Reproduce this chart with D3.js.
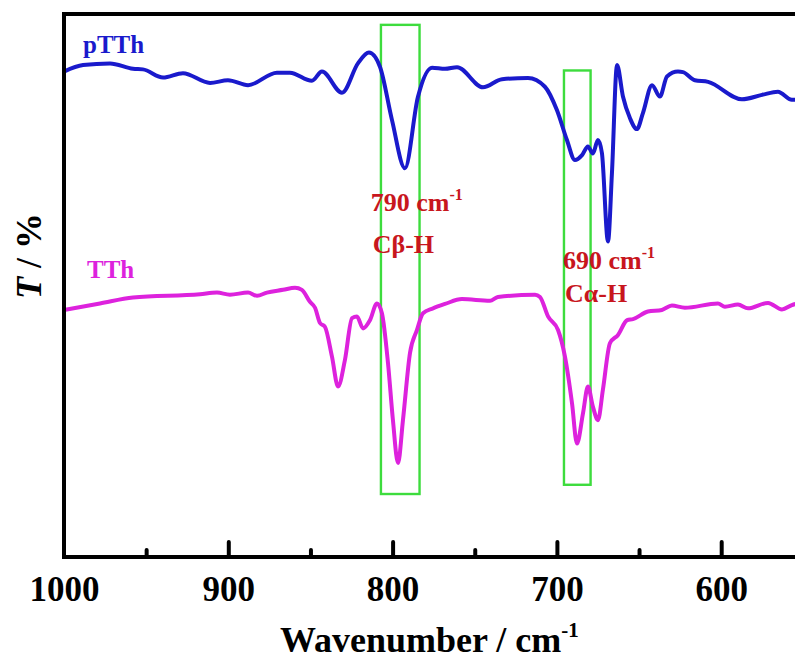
<!DOCTYPE html>
<html>
<head>
<meta charset="utf-8">
<script src="https://cdn.jsdelivr.net/npm/d3@7"></script>
<style>
  html, body { margin: 0; padding: 0; background: #fff; overflow: hidden; }
  text { font-family: "Liberation Serif", "Times New Roman", serif; font-weight: bold; }
</style>
</head>
<body>
<div id="chart"></div>
<script>
// wavenumber (cm-1) / transmittance (arb. offset units)
const pTThWave = [1000, 988.4, 972, 958, 952, 939.7, 927.6, 911.1, 900.2, 888, 870.4, 862.5, 849.1, 843, 830.8, 821.1, 814.4, 807.7, 800.4, 792.5, 784.6, 776, 768.1, 760.8, 745, 733.4, 717.6, 707.3, 700, 693.9, 689, 684.7, 681.1, 678.1, 675, 672.6, 668.9, 666.5, 663.4, 659.8, 655.5, 651.3, 647.6, 642.1, 637.3, 633, 626.3, 623.3, 616, 608, 587.4, 575.2, 565.5, 557, 552];
const pTThT = [89.4, 90.6, 90.9, 89.9, 89.8, 88.3, 89.1, 87.3, 87.8, 86.9, 89.2, 89.2, 87.7, 89.4, 85.5, 90.9, 92.9, 90.3, 80.5, 71.6, 84.7, 90.1, 89.9, 90.2, 86.5, 88.0, 88.2, 86.6, 82.3, 76.8, 73.1, 74.0, 75.6, 74.3, 76.8, 74.4, 58.1, 70.7, 90.6, 84.8, 80.8, 78.8, 81.8, 86.9, 84.8, 88.5, 89.4, 89.3, 87.8, 87.5, 84.3, 85.1, 85.7, 84.2, 84.2];

const tthWave = [1000, 978.1, 958, 917.2, 906.9, 899, 888, 882.5, 876.5, 866.7, 859.4, 855.2, 850.3, 847.2, 844.2, 841.2, 836.9, 833.2, 829, 824.7, 821.7, 818, 813.8, 809.5, 806.5, 802.8, 799.8, 796.7, 793.7, 789.4, 785.2, 781.5, 775.4, 768.1, 757.8, 740.7, 735.9, 713.3, 710.3, 705.4, 699.3, 695.1, 690.8, 687.8, 684.1, 681.1, 678.1, 675, 672, 667.7, 662.8, 657.3, 653.7, 644.6, 636.1, 630, 622.1, 602, 597.7, 589.8, 583.7, 571.5, 563, 557, 552];
const tthT = [45.5, 46.7, 47.8, 48.4, 48.7, 48.3, 48.7, 48.1, 48.7, 49.2, 49.6, 49.2, 47.0, 45.9, 43.1, 42.4, 36.9, 31.4, 36.3, 44.0, 44.3, 42.1, 43.6, 46.7, 44.9, 35.7, 25.2, 17.3, 25.2, 37.6, 41.8, 44.9, 45.8, 46.6, 47.5, 47.2, 47.9, 48.3, 47.9, 44.3, 41.8, 36.9, 28.3, 20.9, 26.5, 31.4, 27.7, 25.2, 30.8, 39.4, 40.9, 43.6, 43.8, 45.2, 45.5, 46.3, 45.9, 46.7, 46.1, 46.5, 45.8, 46.8, 45.6, 46.4, 46.8];

const majorTicks = [1000, 900, 800, 700, 600];
const minorTicks = [950, 850, 750, 650, 550];

// highlighted bands: [wave from, wave to, T bottom, T top]
const bands = [
    [807.1, 783.6, 11.6, 98.0],
    [695.7, 679.5, 13.3, 89.6]
];
const bandLabels = [
    { wave: 813.3, t: 63.8, num: "790 cm", bond: "Cβ-H", t2: 56.0 },
    { wave: 696.3, t: 53.1, num: "690 cm", bond: "Cα-H", t2: 47.0 }
];

const W = 795, H = 661;
const plotLeft = 64, plotTop = 14, plotBottom = 557;

const svg = d3.select("#chart").append("svg")
    .attr("width", W)
    .attr("height", H);

const x = d3.scaleLinear().domain([1000, 500]).range([plotLeft, plotLeft + 500 * 1.643]);
const y = d3.scaleLinear().domain([0, 100]).range([plotBottom, plotTop]);

// bands
bands.forEach(b => {
    svg.append("rect")
        .attr("x", x(b[0]))
        .attr("y", y(b[3]))
        .attr("width", x(b[1]) - x(b[0]))
        .attr("height", y(b[2]) - y(b[3]))
        .attr("fill", "none")
        .attr("stroke", "#3ddc3d")
        .attr("stroke-width", 2.4);
});

// curves
const line = d3.line().curve(d3.curveMonotoneX);

svg.append("path")
    .datum(pTThWave.map((w, i) => [x(w), y(pTThT[i])]))
    .attr("d", line)
    .attr("fill", "none")
    .attr("stroke", "#1a1acc")
    .attr("stroke-width", 4)
    .attr("stroke-linejoin", "round");

svg.append("path")
    .datum(tthWave.map((w, i) => [x(w), y(tthT[i])]))
    .attr("d", line)
    .attr("fill", "none")
    .attr("stroke", "#dd22dd")
    .attr("stroke-width", 4)
    .attr("stroke-linejoin", "round");

// frame
svg.append("line")
    .attr("x1", plotLeft).attr("x2", W + 10)
    .attr("y1", plotTop).attr("y2", plotTop)
    .attr("stroke", "#000").attr("stroke-width", 4);
svg.append("line")
    .attr("x1", plotLeft).attr("x2", plotLeft)
    .attr("y1", plotTop - 2).attr("y2", plotBottom + 2)
    .attr("stroke", "#000").attr("stroke-width", 4);

// bottom axis, ticks inside
const xAxis = svg.append("g")
    .attr("transform", "translate(0," + plotBottom + ")")
    .call(d3.axisBottom(x).tickValues(majorTicks).tickFormat(d3.format("d"))
        .tickSizeInner(-15).tickSizeOuter(0).tickPadding(19));
xAxis.select(".domain").attr("stroke-width", 4).attr("d", "M" + (plotLeft - 2) + ",0H" + (W + 10));
xAxis.selectAll(".tick line").attr("stroke-width", 4).attr("stroke-linecap", "round");
xAxis.selectAll(".tick").filter(d => d === 1000).select("line").remove();
xAxis.selectAll(".tick text")
    .attr("font-size", 35)
    .attr("font-family", "Liberation Serif, serif")
    .attr("font-weight", "bold")
    .attr("fill", "#000");

const xMinor = svg.append("g")
    .attr("transform", "translate(0," + plotBottom + ")")
    .call(d3.axisBottom(x).tickValues(minorTicks).tickSizeInner(-7).tickSizeOuter(0).tickFormat(""));
xMinor.select(".domain").remove();
xMinor.selectAll(".tick line").attr("stroke-width", 4).attr("stroke-linecap", "round");

// axis titles
const xt = svg.append("text")
    .attr("x", 280).attr("y", 652)
    .attr("font-size", 36)
    .attr("fill", "#000");
xt.append("tspan").text("Wavenumber / cm");
xt.append("tspan").attr("font-size", 21).attr("dy", -15).text("-1");

const yt = svg.append("text")
    .attr("transform", "translate(41,256) rotate(-90)")
    .attr("text-anchor", "middle")
    .attr("font-size", 36)
    .attr("fill", "#000");
yt.append("tspan").attr("font-style", "italic").text("T");
yt.append("tspan").text(" / %");

// series labels
svg.append("text")
    .attr("x", 83).attr("y", 53)
    .attr("font-size", 25)
    .attr("fill", "#1a1acc")
    .text("pTTh");
svg.append("text")
    .attr("x", 87).attr("y", 278)
    .attr("font-size", 25)
    .attr("fill", "#dd22dd")
    .text("TTh");

// band annotations
bandLabels.forEach(l => {
    const t = svg.append("text")
        .attr("x", x(l.wave)).attr("y", y(l.t))
        .attr("font-size", 26)
        .attr("fill", "#c8161d");
    t.append("tspan").text(l.num);
    t.append("tspan").attr("font-size", 16).attr("dy", -11).text("-1");
    svg.append("text")
        .attr("x", x(l.wave) + 2).attr("y", y(l.t2))
        .attr("font-size", 26)
        .attr("fill", "#c8161d")
        .text(l.bond);
});
</script>
</body>
</html>
